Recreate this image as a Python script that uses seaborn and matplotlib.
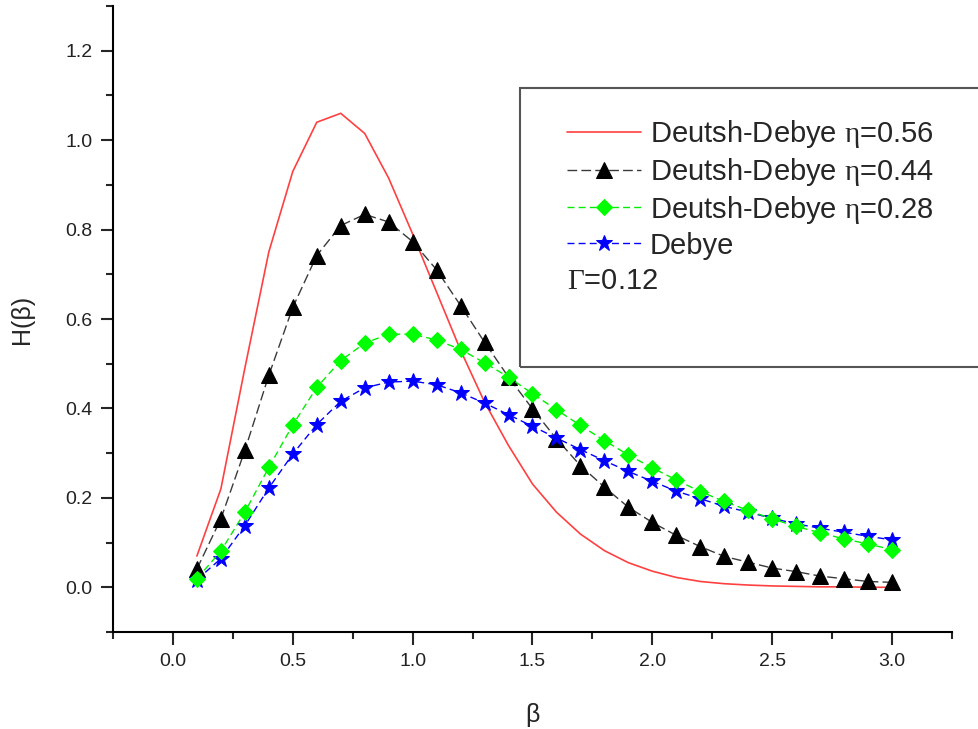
import matplotlib
matplotlib.use("Agg")
import matplotlib.pyplot as plt
import matplotlib.patches as patches
from matplotlib.ticker import MultipleLocator, FormatStrFormatter
import seaborn as sns

beta = [0.1, 0.2, 0.3, 0.4, 0.5, 0.6, 0.7, 0.8, 0.9, 1.0,
        1.1, 1.2, 1.3, 1.4, 1.5, 1.6, 1.7, 1.8, 1.9, 2.0,
        2.1, 2.2, 2.3, 2.4, 2.5, 2.6, 2.7, 2.8, 2.9, 3.0]

h_eta056 = [0.07, 0.22, 0.49, 0.75, 0.93, 1.04, 1.06, 1.015, 0.915, 0.79,
            0.66, 0.53, 0.414, 0.317, 0.231, 0.168, 0.119, 0.082, 0.055, 0.036,
            0.022, 0.013, 0.008, 0.005, 0.003, 0.002, 0.001, 0.001, 0.0, 0.0]
h_eta044 = [0.041, 0.153, 0.306, 0.474, 0.626, 0.742, 0.809, 0.834, 0.817, 0.773,
            0.71, 0.63, 0.548, 0.47, 0.399, 0.332, 0.272, 0.224, 0.179, 0.145,
            0.116, 0.091, 0.069, 0.056, 0.043, 0.035, 0.025, 0.019, 0.013, 0.011]
h_eta028 = [0.019, 0.081, 0.168, 0.268, 0.363, 0.447, 0.507, 0.546, 0.566, 0.566,
            0.553, 0.532, 0.502, 0.47, 0.433, 0.397, 0.362, 0.328, 0.296, 0.267,
            0.240, 0.214, 0.192, 0.172, 0.153, 0.136, 0.122, 0.108, 0.097, 0.084]
h_debye = [0.017, 0.064, 0.138, 0.222, 0.298, 0.364, 0.416, 0.446, 0.459, 0.461,
           0.453, 0.435, 0.412, 0.386, 0.36, 0.334, 0.308, 0.283, 0.259, 0.237,
           0.215, 0.198, 0.181, 0.168, 0.154, 0.142, 0.132, 0.123, 0.114, 0.106]

labels = [r"Deutsh-Debye $\mathrm{\eta}$=0.56",
          r"Deutsh-Debye $\mathrm{\eta}$=0.44",
          r"Deutsh-Debye $\mathrm{\eta}$=0.28",
          "Debye"]

sns.set_style("ticks")
plt.rcParams["font.family"] = ["Liberation Sans", "DejaVu Sans"]
plt.rcParams["mathtext.fontset"] = "custom"
plt.rcParams["mathtext.rm"] = "Liberation Serif"

W, H = 979, 729
fig = plt.figure(figsize=(W / 100, H / 100), dpi=100)
ax = fig.add_axes([113 / W, 1 - 632 / H, (952 - 113) / W, (632 - 6) / H])

sns.lineplot(x=beta, y=h_eta056, ax=ax, color="#ff4040", lw=1.2, label=labels[0])
sns.lineplot(x=beta, y=h_eta044, ax=ax, color="#3a3a3a", lw=1.0,
             linestyle=(0, (7, 3)), marker="^", markersize=11,
             markerfacecolor="black", markeredgecolor="black", label=labels[1])
sns.lineplot(x=beta, y=h_debye, ax=ax, color="#0000ff", lw=1.0,
             linestyle=(0, (5, 3)), marker="*", markersize=12,
             markerfacecolor="#0000ff", markeredgecolor="#0000ff", label=labels[3])
sns.lineplot(x=beta, y=h_eta028, ax=ax, color="#00ee00", lw=1.0,
             linestyle=(0, (5, 3)), marker="D", markersize=8,
             markerfacecolor="#00ff00", markeredgecolor="#00ff00", label=labels[2])

ax.set_xlim(-0.25, 3.25)
ax.set_ylim(-0.1, 1.3)
ax.xaxis.set_major_locator(MultipleLocator(0.5))
ax.xaxis.set_minor_locator(MultipleLocator(0.25))
ax.yaxis.set_major_locator(MultipleLocator(0.2))
ax.yaxis.set_minor_locator(MultipleLocator(0.1))
ax.xaxis.set_major_formatter(FormatStrFormatter("%.1f"))
ax.yaxis.set_major_formatter(FormatStrFormatter("%.1f"))
sns.despine(ax=ax)
for s in ("left", "bottom"):
    ax.spines[s].set_linewidth(1.5)
    ax.spines[s].set_color("black")
ax.tick_params(which="major", length=9, width=1.5, labelsize=14,
               labelcolor="#222222", pad=6)
ax.tick_params(which="minor", length=5, width=1.5)

ax.set_xlabel("β", fontsize=18, labelpad=24)
ax.set_ylabel("H(β)", fontsize=18, labelpad=22)

handles, labs = ax.get_legend_handles_labels()
order = [0, 1, 3, 2]
ax.legend([handles[i] for i in order], [labs[i] for i in order],
          loc="upper left", bbox_to_anchor=(567 / W, 1 - 118 / H),
          bbox_transform=fig.transFigure, frameon=False, fontsize=21,
          borderpad=0, borderaxespad=0, handlelength=2.55,
          handletextpad=0.3, labelspacing=0.2)

fig.text(567 / W, 1 - 281 / H, r"$\mathrm{\Gamma}$=0.12", fontsize=21, va="center")
fig.patches.append(patches.Rectangle((520 / W, 1 - 367 / H), (1000 - 520) / W,
                                     (367 - 88) / H, transform=fig.transFigure,
                                     fill=False, edgecolor="#555555", lw=1.5,
                                     clip_on=False))

plt.savefig("out.png", dpi=100)
plt.close()
